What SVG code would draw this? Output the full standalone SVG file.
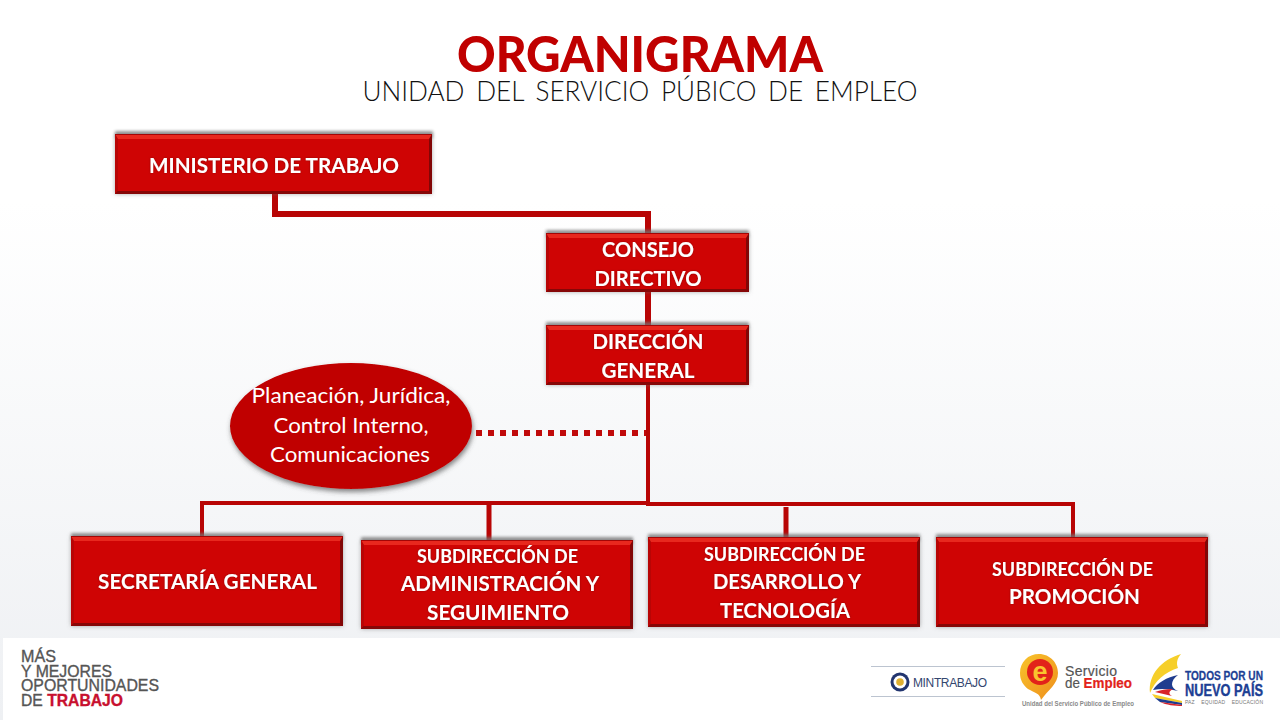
<svg xmlns="http://www.w3.org/2000/svg" width="1280" height="720" viewBox="0 0 1280 720">
<style>
.t{font-family:"Lato","Open Sans","Liberation Sans",sans-serif;font-weight:700;fill:#fff;text-anchor:middle;filter:url(#glow)}
.o{font-family:"Lato","Open Sans","Liberation Sans",sans-serif;font-weight:400;fill:#fff;text-anchor:middle;font-size:22px}
.base{fill:#8c0606;filter:url(#bsh)}
.body{fill:#cf0404}
.top{fill:#e8281e}
.edge{fill:#a30606}
.bot{fill:#860707}
.left{fill:#b80505}
.right{fill:#820606}
.c{fill:none;stroke:#b80505;stroke-width:6}
.f{font-family:"Liberation Sans",Arial,sans-serif;font-weight:700}
</style>
<defs>
<linearGradient id="bg" x1="0" y1="0" x2="0" y2="1"><stop offset="0" stop-color="#fff"/><stop offset=".28" stop-color="#fff"/><stop offset="1" stop-color="#eef0f3"/></linearGradient>
<linearGradient id="pin" x1="0" y1="0" x2="1" y2="1"><stop offset="0" stop-color="#f8c42c"/><stop offset="1" stop-color="#ee8e1c"/></linearGradient>
<filter id="sh" x="-5%" y="-50%" width="110%" height="200%"><feGaussianBlur stdDeviation="1.6"/></filter>
<filter id="bsh" x="-5%" y="-10%" width="110%" height="120%"><feDropShadow dx="0" dy="0" stdDeviation="2" flood-color="#666" flood-opacity=".55"/></filter>
<filter id="glow" x="-5%" y="-20%" width="110%" height="140%"><feDropShadow dx="0" dy="0" stdDeviation=".8" flood-color="#7a0000" flood-opacity=".7"/></filter>
<filter id="esh" x="-10%" y="-10%" width="120%" height="125%"><feDropShadow dx="1" dy="3" stdDeviation="2.5" flood-color="#444" flood-opacity=".65"/></filter>
</defs>
<rect width="1280" height="720" fill="url(#bg)"/>
<rect x="3" y="638" width="1277" height="82" fill="#fff"/>

<g id="title">
<text x="640" y="72" text-anchor="middle" font-family="Lato,Liberation Sans,sans-serif" font-weight="900" font-size="49" fill="#c00000" textLength="366" lengthAdjust="spacingAndGlyphs">ORGANIGRAMA</text>
<text x="640" y="101" text-anchor="middle" font-family="Lato,Liberation Sans,sans-serif" font-weight="300" font-size="28" fill="#111" word-spacing="5" textLength="555" lengthAdjust="spacingAndGlyphs">UNIDAD DEL SERVICIO PÚBICO DE EMPLEO</text>
</g>

<g id="connectors">
<path class="c" d="M275 194V214H648V233"/>
<path class="c" d="M648 292V325"/>
<path class="c" style="stroke-width:4" d="M648 385V503"/>
<path class="c" style="stroke-width:4" d="M648 503H202V536"/>
<path class="c" style="stroke-width:4" d="M648 503V504H1073V537"/>
<path class="c" style="stroke-width:5" d="M489 504V540"/>
<path class="c" style="stroke-width:5" d="M786 507V537"/>
<path d="M476 433H646" fill="none" stroke="#c00a0a" stroke-width="6" stroke-dasharray="6 6"/>
</g>

<g id="ministerio">
<rect x="115" y="131" width="318" height="7" fill="#777" opacity=".7" filter="url(#sh)"/>
<rect class="base" x="115" y="134" width="317" height="60"/>
<rect class="body" x="118" y="139" width="311" height="52"/>
<path class="left" d="M115 134L118 139V191L115 194Z"/>
<path class="right" d="M432 134L429 139V191L432 194Z"/>
<path class="top" d="M115 134H432L429 139H118Z"/>
<rect class="edge" x="115" y="134" width="317" height="1"/>
<path class="bot" d="M115 194H432L429 191H118Z"/>
<text class="t" x="274" y="173" font-size="21.500" textLength="250" lengthAdjust="spacingAndGlyphs">MINISTERIO DE TRABAJO</text>
</g>

<g id="consejo">
<rect x="546" y="230" width="203" height="7" fill="#777" opacity=".7" filter="url(#sh)"/>
<rect class="base" x="546" y="233" width="203" height="59"/>
<rect class="body" x="549" y="238" width="197" height="51"/>
<path class="left" d="M546 233L549 238V289L546 292Z"/>
<path class="right" d="M749 233L746 238V289L749 292Z"/>
<path class="top" d="M546 233H749L746 238H549Z"/>
<rect class="edge" x="546" y="233" width="203" height="1"/>
<path class="bot" d="M546 292H749L746 289H549Z"/>
<text class="t" x="648" y="257" font-size="21.500" textLength="92" lengthAdjust="spacingAndGlyphs">CONSEJO</text>
<text class="t" x="648" y="286" font-size="21.500" textLength="107" lengthAdjust="spacingAndGlyphs">DIRECTIVO</text>
</g>

<g id="direccion">
<rect x="546" y="322" width="203" height="7" fill="#777" opacity=".7" filter="url(#sh)"/>
<rect class="base" x="546" y="325" width="203" height="60"/>
<rect class="body" x="549" y="330" width="197" height="52"/>
<path class="left" d="M546 325L549 330V382L546 385Z"/>
<path class="right" d="M749 325L746 330V382L749 385Z"/>
<path class="top" d="M546 325H749L746 330H549Z"/>
<rect class="edge" x="546" y="325" width="203" height="1"/>
<path class="bot" d="M546 385H749L746 382H549Z"/>
<text class="t" x="648" y="349" font-size="21.500" textLength="111" lengthAdjust="spacingAndGlyphs">DIRECCIÓN</text>
<text class="t" x="648" y="378" font-size="21.500" textLength="93" lengthAdjust="spacingAndGlyphs">GENERAL</text>
</g>

<g id="asesores">
<ellipse cx="351" cy="426" rx="121" ry="63" fill="#c00404" filter="url(#esh)"/>
<text class="o" x="351" y="403" textLength="199" lengthAdjust="spacingAndGlyphs">Planeación, Jurídica,</text>
<text class="o" x="351" y="433" textLength="155" lengthAdjust="spacingAndGlyphs">Control Interno,</text>
<text class="o" x="350" y="462" textLength="160" lengthAdjust="spacingAndGlyphs">Comunicaciones</text>
</g>

<g id="secretaria">
<rect x="71" y="533" width="272" height="7" fill="#777" opacity=".7" filter="url(#sh)"/>
<rect class="base" x="71" y="536" width="272" height="90"/>
<rect class="body" x="74" y="541" width="266" height="82"/>
<path class="left" d="M71 536L74 541V623L71 626Z"/>
<path class="right" d="M343 536L340 541V623L343 626Z"/>
<path class="top" d="M71 536H343L340 541H74Z"/>
<rect class="edge" x="71" y="536" width="272" height="1"/>
<path class="bot" d="M71 626H343L340 623H74Z"/>
<text class="t" x="207.500" y="589" font-size="21" textLength="219" lengthAdjust="spacingAndGlyphs">SECRETARÍA GENERAL</text>
</g>

<g id="administracion">
<rect x="361" y="537" width="272" height="7" fill="#777" opacity=".7" filter="url(#sh)"/>
<rect class="base" x="361" y="540" width="272" height="89"/>
<rect class="body" x="364" y="545" width="266" height="81"/>
<path class="left" d="M361 540L364 545V626L361 629Z"/>
<path class="right" d="M633 540L630 545V626L633 629Z"/>
<path class="top" d="M361 540H633L630 545H364Z"/>
<rect class="edge" x="361" y="540" width="272" height="1"/>
<path class="bot" d="M361 629H633L630 626H364Z"/>
<text class="t" x="497.500" y="563" font-size="19" textLength="161" lengthAdjust="spacingAndGlyphs">SUBDIRECCIÓN DE</text>
<text class="t" x="500" y="591" font-size="21" textLength="198" lengthAdjust="spacingAndGlyphs">ADMINISTRACIÓN Y</text>
<text class="t" x="498" y="620" font-size="21" textLength="142" lengthAdjust="spacingAndGlyphs">SEGUIMIENTO</text>
</g>

<g id="desarrollo">
<rect x="648" y="534" width="272" height="7" fill="#777" opacity=".7" filter="url(#sh)"/>
<rect class="base" x="648" y="537" width="272" height="90"/>
<rect class="body" x="651" y="542" width="266" height="82"/>
<path class="left" d="M648 537L651 542V624L648 627Z"/>
<path class="right" d="M920 537L917 542V624L920 627Z"/>
<path class="top" d="M648 537H920L917 542H651Z"/>
<rect class="edge" x="648" y="537" width="272" height="1"/>
<path class="bot" d="M648 627H920L917 624H651Z"/>
<text class="t" x="784.500" y="561" font-size="19" textLength="161" lengthAdjust="spacingAndGlyphs">SUBDIRECCIÓN DE</text>
<text class="t" x="787" y="589" font-size="21" textLength="148" lengthAdjust="spacingAndGlyphs">DESARROLLO Y</text>
<text class="t" x="785" y="618" font-size="21" textLength="130" lengthAdjust="spacingAndGlyphs">TECNOLOGÍA</text>
</g>

<g id="promocion">
<rect x="936" y="534" width="272" height="7" fill="#777" opacity=".7" filter="url(#sh)"/>
<rect class="base" x="936" y="537" width="272" height="90"/>
<rect class="body" x="939" y="542" width="266" height="82"/>
<path class="left" d="M936 537L939 542V624L936 627Z"/>
<path class="right" d="M1208 537L1205 542V624L1208 627Z"/>
<path class="top" d="M936 537H1208L1205 542H939Z"/>
<rect class="edge" x="936" y="537" width="272" height="1"/>
<path class="bot" d="M936 627H1208L1205 624H939Z"/>
<text class="t" x="1072.500" y="576" font-size="19" textLength="161" lengthAdjust="spacingAndGlyphs">SUBDIRECCIÓN DE</text>
<text class="t" x="1074.500" y="604" font-size="21" textLength="131" lengthAdjust="spacingAndGlyphs">PROMOCIÓN</text>
</g>

<g id="lema" font-family="Liberation Sans,Arial,sans-serif" font-size="16.500" fill="#555" stroke="#555" stroke-width=".35">
<text x="21" y="662" textLength="35" lengthAdjust="spacingAndGlyphs">MÁS</text>
<text x="21" y="677" textLength="91" lengthAdjust="spacingAndGlyphs">Y MEJORES</text>
<text x="21" y="691" textLength="138" lengthAdjust="spacingAndGlyphs">OPORTUNIDADES</text>
<text x="21" y="706" textLength="102" lengthAdjust="spacingAndGlyphs">DE <tspan fill="#c8102e" stroke="#c8102e" font-weight="700">TRABAJO</tspan></text>
</g>

<g id="mintrabajo">
<path d="M871 666.500H1005M871 696.500H1005" stroke="#bcc4d0" stroke-width="1"/>
<circle cx="900" cy="682" r="9.500" fill="#22356f"/>
<circle cx="900" cy="682" r="6.500" fill="#fff"/>
<circle cx="900" cy="682" r="3.800" fill="#e0b030"/>
<text x="913" y="687" font-family="Liberation Sans,sans-serif" font-size="12" fill="#33466f" textLength="74" lengthAdjust="spacing">MINTRABAJO</text>
</g>

<g id="servicio-empleo">
<path d="M1039 654C1050 654 1058 663 1058 673C1058 684 1048 690 1041 700C1040 693 1035 693 1028 689C1023 685 1020 680 1020 673C1020 662 1028 654 1039 654Z" fill="url(#pin)"/>
<circle cx="1040" cy="672" r="13" fill="#e2231a"/>
<text x="1040" y="681" text-anchor="middle" font-family="Liberation Sans,sans-serif" font-weight="700" font-size="27" fill="#f9c52e">e</text>
<text x="1065" y="676" font-family="Liberation Sans,sans-serif" font-size="14" fill="#555" stroke="#555" stroke-width=".2" textLength="52">Servicio</text>
<text x="1065" y="688" font-family="Liberation Sans,sans-serif" font-size="14" fill="#555" stroke="#555" stroke-width=".2" textLength="67" lengthAdjust="spacingAndGlyphs">de <tspan fill="#e2231a" stroke="#e2231a" font-weight="700">Empleo</tspan></text>
<text x="1022" y="706" font-family="Liberation Sans,sans-serif" font-weight="700" font-size="6.500" fill="#8a8a8a" textLength="112" lengthAdjust="spacingAndGlyphs">Unidad del Servicio Público de Empleo</text>
</g>

<g id="nuevo-pais">
<path d="M1181 654C1161 660 1148 675 1150 693C1155 681 1165 672 1178 668C1176 663 1177 659 1181 654Z" fill="#f6cf2a"/>
<path d="M1178 675C1167 677 1157 683 1153 690C1162 688 1170 689 1178 691C1170 688 1170 681 1178 675Z" fill="#1f3d8f"/>
<path d="M1173 689C1166 689 1160 690 1155 692L1172 696C1168 694 1169 691 1173 689Z" fill="#d8232a"/>
<path d="M1152 694L1182 701V703L1155 698Z" fill="#f6cf2a"/>
<path d="M1155 698L1182 703V705L1160 702Z" fill="#1f3d8f"/>
<path d="M1160 702L1182 705V706C1175 706 1166 705 1160 702Z" fill="#d8232a"/>
<text x="1185" y="680" font-family="Liberation Sans,sans-serif" font-weight="700" font-size="13" fill="#1c3f94" stroke="#1c3f94" stroke-width=".3" textLength="78" lengthAdjust="spacingAndGlyphs">TODOS POR UN</text>
<text x="1185" y="696" font-family="Liberation Sans,sans-serif" font-weight="700" font-size="16.500" fill="#1c3f94" stroke="#1c3f94" stroke-width=".4" textLength="78" lengthAdjust="spacingAndGlyphs">NUEVO PAÍS</text>
<text x="1185" y="704" font-family="Liberation Sans,sans-serif" font-size="5" fill="#777" word-spacing="5" textLength="78">PAZ EQUIDAD EDUCACIÓN</text>
</g>
</svg>
